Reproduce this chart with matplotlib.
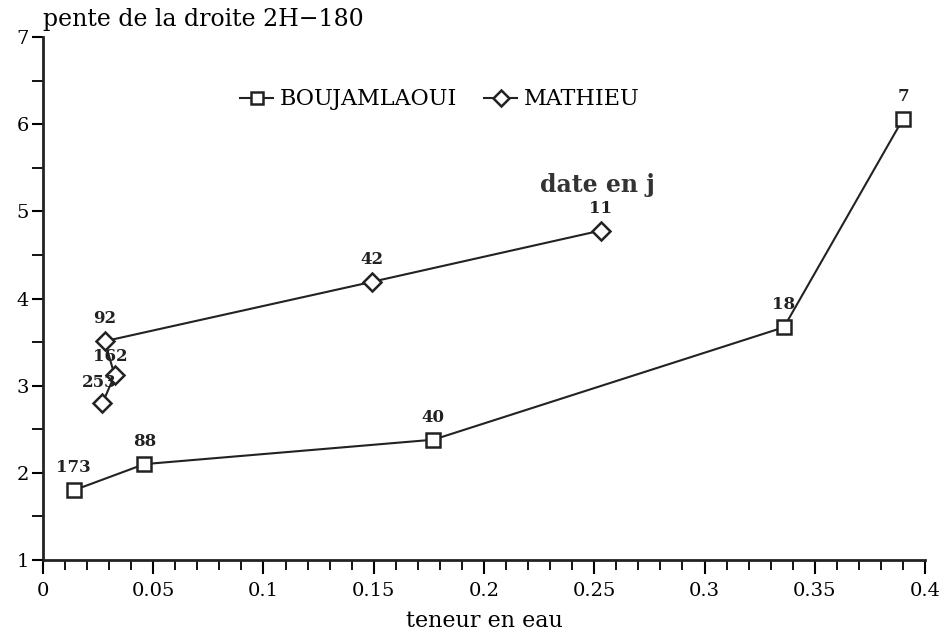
import matplotlib
matplotlib.use("Agg")
import matplotlib.pyplot as plt
from matplotlib.ticker import MultipleLocator

plt.rcParams['font.family'] = ['DejaVu Serif']

bou_x = [0.014, 0.046, 0.177, 0.336, 0.390]
bou_y = [1.80, 2.10, 2.38, 3.67, 6.06]
bou_lab = ["173", "88", "40", "18", "7"]

mat_x = [0.027, 0.0325, 0.028, 0.149, 0.253]
mat_y = [2.80, 3.12, 3.51, 4.19, 4.78]
mat_lab = ["253", "162", "92", "42", "11"]

xticks = [0, 0.05, 0.1, 0.15, 0.2, 0.25, 0.3, 0.35, 0.4]
xticklabels = ["0", "0.05", "0.1", "0.15", "0.2", "0.25", "0.3", "0.35", "0.4"]
yticks = [1, 2, 3, 4, 5, 6, 7]

fig = plt.figure(figsize=(9.42, 6.36), dpi=100)
ax = fig.add_axes([0.0456, 0.1195, 0.9364, 0.8223])

ax.plot(bou_x, bou_y, color='#222222', lw=1.5, marker='s', ms=10,
        mfc='white', mec='#222222', mew=1.8, label='BOUJAMLAOUI')
ax.plot(mat_x, mat_y, color='#222222', lw=1.5, marker='D', ms=9,
        mfc='white', mec='#222222', mew=1.8, label='MATHIEU')

for x, y, t in zip(bou_x, bou_y, bou_lab):
    ax.annotate(t, (x, y), xytext=(0, 10), textcoords='offset points',
                ha='center', va='bottom', fontsize=12, fontweight='bold', color='#222222')
mat_off = [(-2, 9), (-3, 7), (0, 10), (0, 10), (0, 10)]
for (x, y, t), off in zip(zip(mat_x, mat_y, mat_lab), mat_off):
    ax.annotate(t, (x, y), xytext=off, textcoords='offset points',
                ha='center', va='bottom', fontsize=12, fontweight='bold', color='#222222')

ax.set_xlim(0, 0.4)
ax.set_ylim(1, 7)
ax.set_xticks(xticks)
ax.set_xticklabels(xticklabels, fontsize=14)
ax.xaxis.set_minor_locator(MultipleLocator(0.01))
ax.set_yticks(yticks)
ax.set_yticklabels([str(v) for v in yticks], fontsize=14)
ax.yaxis.set_minor_locator(MultipleLocator(0.5))
ax.tick_params(axis='x', which='major', direction='out', length=10, width=1.5, pad=6)
ax.tick_params(axis='x', which='minor', direction='out', length=7, width=1.3)
ax.tick_params(axis='y', which='major', direction='out', length=8, width=1.5, pad=2)
ax.tick_params(axis='y', which='minor', direction='out', length=8, width=1.3)
for s in ['top', 'right']:
    ax.spines[s].set_visible(False)
for s in ['left', 'bottom']:
    ax.spines[s].set_linewidth(2)
    ax.spines[s].set_color('#222222')

ax.set_xlabel('teneur en eau', fontsize=16, labelpad=7)
fig.text(0.046, 0.988, 'pente de la droite 2H\u2212180', fontsize=17, va='top', ha='left')
ax.text(0.2515, 5.30, 'date en j', fontsize=17, fontweight='bold', ha='center', va='center', color='#333333')

leg = ax.legend(loc='upper center', bbox_to_anchor=(0.45, 0.94), ncol=2, frameon=False,
                fontsize=16, handlelength=1.5, columnspacing=1.2, handletextpad=0.3)
for h in leg.legend_handles:
    h.set_markersize(8)

fig.savefig('out.png', dpi=100)
